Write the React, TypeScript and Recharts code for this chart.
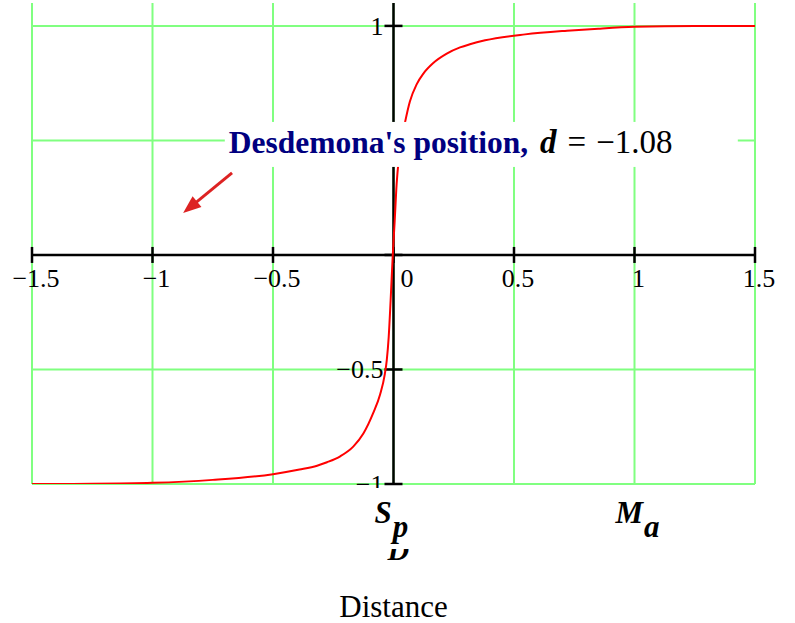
import React from "react";
import { LineChart, Line, XAxis, YAxis, ReferenceLine, ReferenceDot } from "recharts";

// Curve values
const CURVE_X = [
  -1.5, -1.25, -1.0, -0.75, -0.5, -0.39, -0.317, -0.276, -0.221, -0.167, -0.125, -0.084, -0.056,
  -0.036, -0.028, -0.02, -0.012, -0.003, 0.005, 0.013, 0.021, 0.033, 0.048, 0.068, 0.096, 0.124,
  0.165, 0.221, 0.276, 0.317, 0.38, 0.546, 0.72, 0.85, 1.0, 1.25, 1.5,
];
const CURVE_Y = [
  -1.0, -0.999, -0.995, -0.982, -0.957, -0.937, -0.92, -0.905, -0.879, -0.837, -0.78, -0.69, -0.61,
  -0.52, -0.46, -0.36, -0.2, 0.0, 0.15, 0.31, 0.41, 0.5, 0.58, 0.67, 0.745, 0.792,
  0.838, 0.879, 0.906, 0.92, 0.937, 0.963, 0.979, 0.988, 0.996, 1.0, 1.0,
];

const X_TICKS = [-1.5, -1, -0.5, 0, 0.5, 1, 1.5];
const X_TICK_LABELS = ["\u22121.5", "\u22121", "\u22120.5", "0", "0.5", "1", "1.5"];
const Y_TICKS = [-1, -0.5, 0, 0.5, 1];
const Y_TICK_LABELS = ["\u22121", "\u22120.5", "", "0.5", "1"];

const MARKERS = [
  { x: 0, main: "S", sub: "p" },
  { x: 1, main: "M", sub: "a" },
];

const ANNOTATION = { x: -0.7, y: 0.5, name: "Desdemona's position,", variable: "d", value: "\u22121.08" };
const ARROW = [
  { x: -0.67, y: 0.358 },
  { x: -0.873, y: 0.183 },
];
const X_TITLE = "Distance";

const X_DOMAIN = [-1.5, 1.5];
const Y_DOMAIN = [-1, 1.1];

const data = CURVE_X.map((x, i) => ({ x, y: CURVE_Y[i] }));

const SERIF = "'Liberation Serif', 'Times New Roman', serif";
const GRID = "#80ff80";

const ArrowShape = (p: any) => {
  const { x1, y1, x2, y2 } = p;
  const dx = x2 - x1;
  const dy = y2 - y1;
  const len = Math.sqrt(dx * dx + dy * dy) || 1;
  const ux = dx / len;
  const uy = dy / len;
  const hl = 18;
  const hw = 7;
  const bx = x2 - ux * hl;
  const by = y2 - uy * hl;
  const pts = `${x2},${y2} ${bx - uy * hw},${by + ux * hw} ${bx + uy * hw},${by - ux * hw}`;
  return (
    <g>
      <line x1={x1} y1={y1} x2={bx + ux * 2} y2={by + uy * 2} stroke="#dd2222" strokeWidth={3} />
      <polygon points={pts} fill="#dd2222" />
    </g>
  );
};

export default function App() {
  return (
    <div style={{ position: "absolute", left: 0, top: 0, width: 795, height: 623, background: "#fff" }}>
      <LineChart
        width={795}
        height={623}
        data={data}
        margin={{ top: 3, right: 40, bottom: 139, left: 32 }}
        style={{ fontFamily: SERIF }}
      >
        <XAxis dataKey="x" type="number" domain={X_DOMAIN} ticks={X_TICKS} hide allowDataOverflow />
        <YAxis type="number" domain={Y_DOMAIN} ticks={Y_TICKS} hide allowDataOverflow />

        {X_TICKS.map((t) => (
          <ReferenceLine key={"gx" + t} x={t} stroke={GRID} strokeWidth={2} zIndex={-50} />
        ))}
        {Y_TICKS.map((t) => (
          <ReferenceLine key={"gy" + t} y={t} stroke={GRID} strokeWidth={2} zIndex={-50} />
        ))}

        <ReferenceLine y={0} stroke="#000" strokeWidth={2.5} zIndex={-10} />
        <ReferenceLine x={0} stroke="#000" strokeWidth={2.5} zIndex={-10} />

        {X_TICKS.map((t, i) => (
          <ReferenceDot
            key={"xt" + t}
            x={t}
            y={0}
            zIndex={0}
            shape={(p: any) => (
              <g>
                <line x1={p.cx} y1={p.cy - 8} x2={p.cx} y2={p.cy + 8} stroke="#000" strokeWidth={2.5} />
                <text
                  x={t === 0 ? p.cx + 7 : p.cx + 4}
                  y={p.cy + 32}
                  textAnchor={t === 0 ? "start" : "middle"}
                  fontFamily={SERIF}
                  fontSize={26}
                  fill="#000"
                >
                  {X_TICK_LABELS[i]}
                </text>
              </g>
            )}
          />
        ))}

        {Y_TICKS.map((t, i) => (
          <ReferenceDot
            key={"yt" + t}
            x={0}
            y={t}
            zIndex={0}
            shape={(p: any) => (
              <g>
                <defs>
                  <clipPath id={"yclip" + i}>
                    <rect x={p.cx - 80} y={p.cy - 30} width={100} height={t === -1 ? 34 : 60} />
                  </clipPath>
                </defs>
                <line x1={p.cx - 9} y1={p.cy} x2={p.cx + 9} y2={p.cy} stroke="#000" strokeWidth={2.5} />
                <text
                  x={p.cx - 10}
                  y={p.cy + 9}
                  textAnchor="end"
                  fontFamily={SERIF}
                  fontSize={26}
                  fill="#000"
                  clipPath={`url(#yclip${i})`}
                >
                  {Y_TICK_LABELS[i]}
                </text>
              </g>
            )}
          />
        ))}

        <Line
          type="monotone"
          dataKey="y"
          stroke="#ff0000"
          strokeWidth={2}
          dot={false}
          isAnimationActive={false}
          zIndex={100}
        />

        <ReferenceDot
          x={ANNOTATION.x}
          y={ANNOTATION.y}
          zIndex={1000}
          shape={(p: any) => (
            <g>
              <rect x={p.cx} y={p.cy - 18.5} width={513} height={45} fill="#fff" />
              <text x={p.cx + 4} y={p.cy + 12.5} fontFamily={SERIF} fontSize={33} fill="#000">
                <tspan fill="#000080" fontWeight="bold" fontSize={31.5}>
                  {ANNOTATION.name}
                </tspan>
                <tspan dx={12} fontWeight="bold" fontStyle="italic">
                  {ANNOTATION.variable}
                </tspan>
                <tspan dx={11}>=</tspan>
                <tspan dx={10}>{ANNOTATION.value}</tspan>
              </text>
            </g>
          )}
        />

        <ReferenceLine segment={ARROW} zIndex={1100} shape={ArrowShape} />

        {MARKERS.map((m) => (
          <ReferenceDot
            key={"m" + m.x}
            x={m.x}
            y={Y_DOMAIN[0]}
            zIndex={1200}
            shape={(p: any) => (
              <g>
                <text
                  x={p.cx - 19}
                  y={p.cy + 39}
                  fontFamily={SERIF}
                  fontSize={31}
                  fontWeight="bold"
                  fontStyle="italic"
                  fill="#000"
                >
                  {m.main}
                  <tspan dx={1} dy={14}>{m.sub}</tspan>
                </text>
                {m.x === 0 && (
                  <g>
                    <defs>
                      <clipPath id="dclip">
                        <rect x={p.cx - 20} y={p.cy + 65} width={40} height={20} />
                      </clipPath>
                    </defs>
                    <text
                      x={p.cx - 6}
                      y={p.cy + 76}
                      fontFamily={SERIF}
                      fontSize={30}
                      fontWeight="bold"
                      fontStyle="italic"
                      fill="#000"
                      clipPath="url(#dclip)"
                    >
                      D
                    </text>
                    <text x={p.cx} y={p.cy + 133} textAnchor="middle" fontFamily={SERIF} fontSize={31} fill="#000">
                      {X_TITLE}
                    </text>
                  </g>
                )}
              </g>
            )}
          />
        ))}
      </LineChart>
    </div>
  );
}
